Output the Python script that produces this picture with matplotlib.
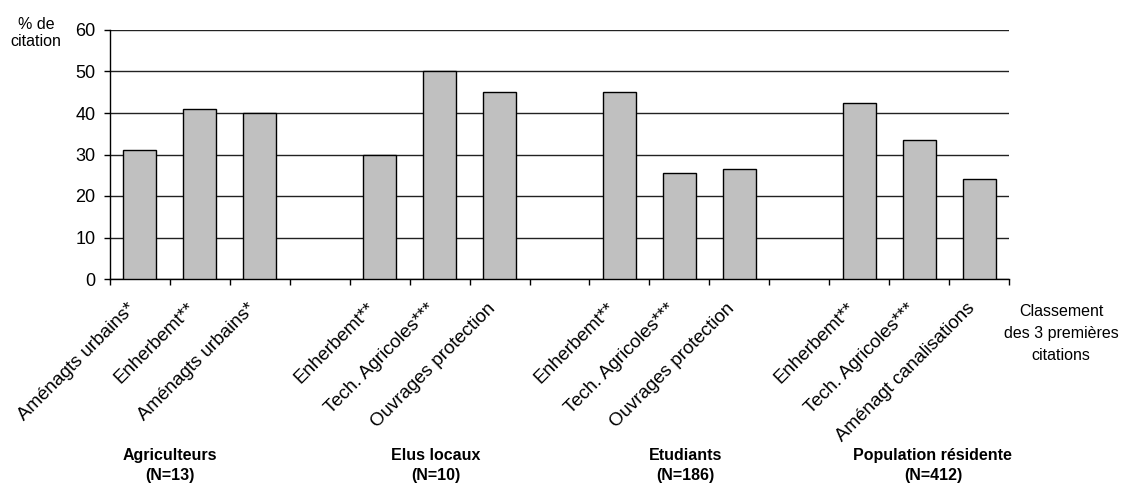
import matplotlib
matplotlib.use("Agg")
import matplotlib.pyplot as plt
import matplotlib.transforms as mtransforms
import numpy as np

plt.rcParams['font.family'] = ['Liberation Sans', 'DejaVu Sans']

# Survey groups and their three most cited measures (% de citation)
groups = ['Agriculteurs', 'Elus locaux', 'Etudiants', 'Population résidente']
group_n = [13, 10, 186, 412]

agri_labels = ['Aménagts urbains*', 'Enherbemt**', 'Aménagts urbains*']
agri_values = [31, 41, 40]

elus_labels = ['Enherbemt**', 'Tech. Agricoles***', 'Ouvrages protection']
elus_values = [30, 50, 45]

etud_labels = ['Enherbemt**', 'Tech. Agricoles***', 'Ouvrages protection']
etud_values = [45, 25.5, 26.5]

pop_labels = ['Enherbemt**', 'Tech. Agricoles***', 'Aménagt canalisations']
pop_values = [42.5, 33.5, 24]

yticks = [0, 10, 20, 30, 40, 50, 60]

all_labels = [agri_labels, elus_labels, etud_labels, pop_labels]
all_values = [agri_values, elus_values, etud_values, pop_values]

# Each group takes three category slots followed by one empty slot
slots_per_group = 4
positions, heights, names = [], [], []
for g, (labs, vals) in enumerate(zip(all_labels, all_values)):
    for k, (lab, val) in enumerate(zip(labs, vals)):
        positions.append(g * slots_per_group + k)
        heights.append(val)
        names.append(lab)
n_slots = slots_per_group * len(groups) - 1

fig = plt.figure(figsize=(11.21, 4.84), dpi=100)
ax = fig.add_axes([110 / 1121, 1 - 279 / 484, 899 / 1121, 249 / 484])

ax.bar(positions, heights, width=0.55, color='#c0c0c0', edgecolor='black',
       linewidth=1.0, zorder=3)

ax.set_xlim(-0.5, n_slots - 0.5)
ax.set_ylim(0, 60)
ax.set_yticks(yticks)
ax.yaxis.grid(True, color='#222222', linewidth=1.0)
ax.set_axisbelow(True)

for side in ['top', 'right']:
    ax.spines[side].set_visible(False)
for side in ['left', 'bottom']:
    ax.spines[side].set_color('black')
    ax.spines[side].set_linewidth(1.0)

ax.tick_params(axis='y', direction='out', length=4.3, width=1.0, pad=6,
               labelsize=13, colors='black')

# Tick marks on slot boundaries, category names on the bars
ax.set_xticks(np.arange(-0.5, n_slots, 1.0))
ax.set_xticklabels([])
ax.tick_params(axis='x', which='major', direction='out', length=4.3, width=1.0)
ax.set_xticks(positions, minor=True)
ax.set_xticklabels(names, minor=True, rotation=45, ha='right', va='center',
                   rotation_mode='anchor', fontsize=13.5)
ax.tick_params(axis='x', which='minor', length=0, pad=19.5)
shift = mtransforms.ScaledTranslation(-0.07, 0, fig.dpi_scale_trans)
for lab in ax.xaxis.get_minorticklabels():
    lab.set_transform(lab.get_transform() + shift)

# Group captions under the category names (y is the baseline of the last line)
label_x = [0.5, 4.93, 9.1, 13.23]
trans = mtransforms.blended_transform_factory(ax.transData, fig.transFigure)
for x, name, n in zip(label_x, groups, group_n):
    ax.text(x, 1 - 480 / 484, f'{name}\n(N={n})', transform=trans, ha='center',
            va='baseline', fontsize=11.5, fontweight='bold', linespacing=1.45)

fig.text(36 / 1121, 1 - 46 / 484, '% de\ncitation', ha='center', va='baseline',
         fontsize=11.5, linespacing=1.15)
fig.text(1061 / 1121, 1 - 360 / 484, 'Classement\ndes 3 premières\ncitations',
         ha='center', va='baseline', fontsize=11.5, linespacing=1.6)

fig.savefig('out.png', dpi=100)
